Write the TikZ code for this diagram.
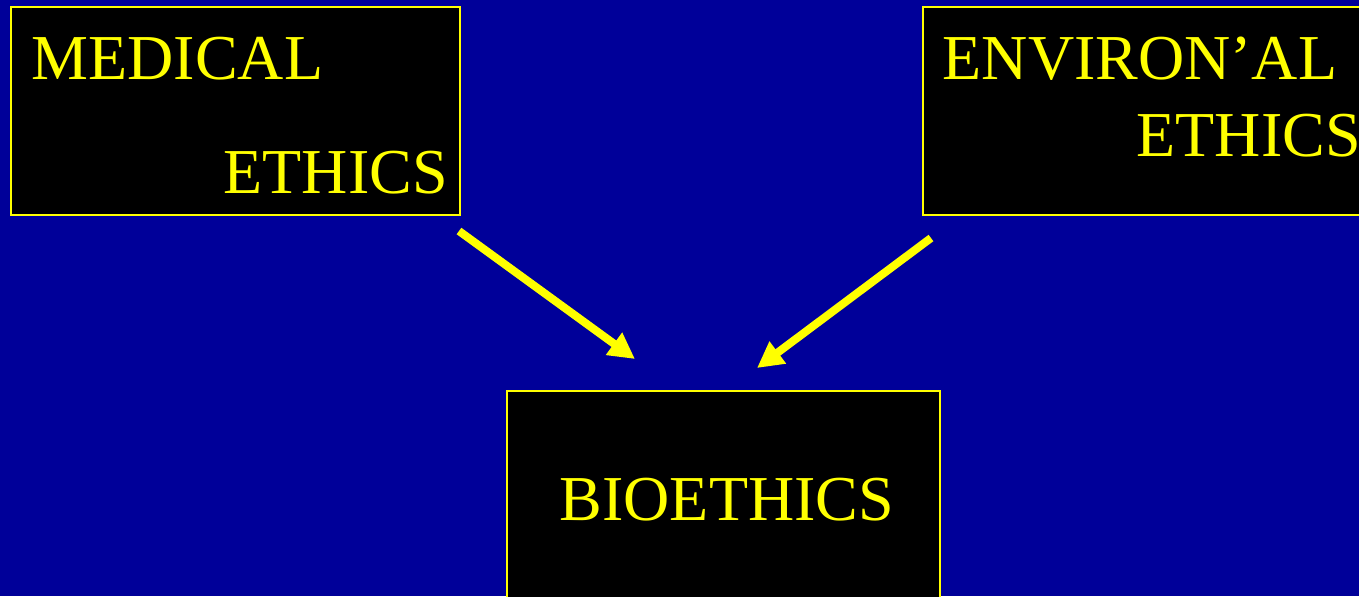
\documentclass[tikz,border=0pt]{standalone}
\usepackage{fontspec}
\setmainfont{Liberation Serif}
\usepackage{tikz}
\usetikzlibrary{arrows.meta}
\definecolor{slideblue}{RGB}{0,0,153}
\definecolor{slideyellow}{RGB}{255,255,0}

\begin{document}
\begin{tikzpicture}[x=0.01cm, y=-0.01cm,
    ethicsbox/.style = {draw=slideyellow, fill=black, line width=0.02cm, anchor=north west, inner sep=0pt, outer sep=0pt},
    label/.style = {text=slideyellow, anchor=base west, inner sep=0pt, font=\fontsize{18.2}{22}\selectfont},
    arr/.style = {slideyellow, line width=0.08cm, -{Triangle[length=0.26cm, width=0.26cm]}}]
    \useasboundingbox (0,0) rectangle (1359,596);
    \clip (0,0) rectangle (1359,596);
    \fill[slideblue] (0,0) rectangle (1359,596);

    \node[ethicsbox, minimum width=4.49cm, minimum height=2.08cm] (medbox) at (11,7) {};
    \node[ethicsbox, minimum width=4.6cm, minimum height=2.08cm] (envbox) at (923,7) {};
    \node[ethicsbox, minimum width=4.33cm, minimum height=2.3cm] (biobox) at (507,391) {};

    \node[label] (medtop) at (31,79) {MEDICAL};
    \node[label] (medbot) at (223,193) {ETHICS};
    \node[label] (envtop) at (942,79) {ENVIRON’AL};
    \node[label] (envbot) at (1136,156) {ETHICS};
    \node[label] (bioname) at (559,520) {BIOETHICS};

    \coordinate (medtail) at (459,231);
    \coordinate (medtip) at (635,359);
    \coordinate (envtail) at (931,238);
    \coordinate (envtip) at (757,368);
    \draw[arr] (medtail) -- (medtip);
    \draw[arr] (envtail) -- (envtip);
\end{tikzpicture}
\end{document}
